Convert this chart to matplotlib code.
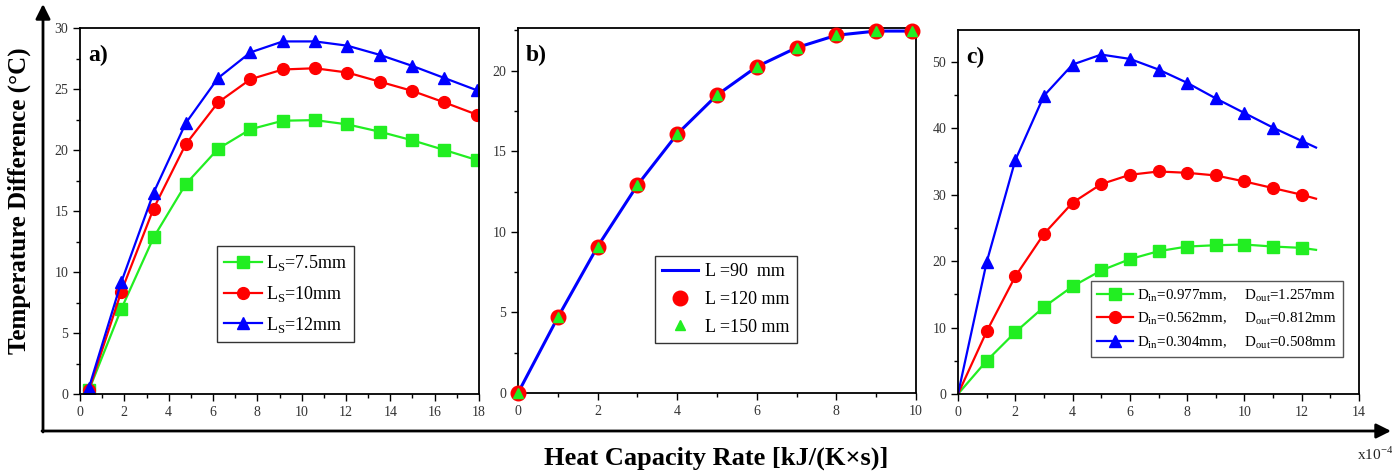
import matplotlib
matplotlib.use("Agg")
import matplotlib.pyplot as plt
from matplotlib.ticker import MultipleLocator

plt.rcParams['font.family'] = ['Liberation Serif', 'DejaVu Serif']
plt.rcParams['mathtext.fontset'] = 'custom'
plt.rcParams['mathtext.rm'] = 'Liberation Serif'

# ---------------- data ----------------
# panel a
xa = [0.4, 1.86, 3.32, 4.77, 6.23, 7.69, 9.15, 10.6, 12.06, 13.52, 14.98, 16.44, 17.9]
ya_75 = [0.3, 6.96, 12.83, 17.2, 20.1, 21.7, 22.4, 22.45, 22.1, 21.5, 20.8, 20.0, 19.18]
ya_10 = [0.3, 8.38, 15.2, 20.47, 23.9, 25.8, 26.6, 26.7, 26.35, 25.6, 24.85, 23.9, 22.9]
ya_12 = [0.5, 9.15, 16.5, 22.2, 25.9, 28.0, 28.9, 28.9, 28.55, 27.8, 26.9, 25.9, 24.9]
labels_a = ["L$_\\mathregular{S}$=7.5mm", "L$_\\mathregular{S}$=10mm", "L$_\\mathregular{S}$=12mm"]

# panel b
xb = [0, 1, 2, 3, 4, 5, 6, 7, 8, 9, 9.9]
yb_90 = [0, 4.69, 9.09, 12.9, 16.07, 18.49, 20.25, 21.43, 22.2, 22.46, 22.46]
yb_120 = [0, 4.69, 9.09, 12.9, 16.07, 18.49, 20.25, 21.43, 22.2, 22.46, 22.46]
yb_150 = [0, 4.69, 9.09, 12.9, 16.07, 18.49, 20.25, 21.43, 22.2, 22.46, 22.46]
labels_b = ["L =90  mm", "L =120 mm", "L =150 mm"]

# panel c
xc = [0, 1, 2, 3, 4, 5, 6, 7, 8, 9, 10, 11, 12, 12.5]
yc_977 = [0, 5.0, 9.3, 13.1, 16.2, 18.6, 20.3, 21.5, 22.2, 22.4, 22.5, 22.2, 22.0, 21.7]
yc_562 = [0, 9.42, 17.7, 24.1, 28.8, 31.6, 33.0, 33.5, 33.3, 32.9, 32.0, 31.0, 30.0, 29.4]
yc_304 = [0, 19.84, 35.2, 44.9, 49.6, 51.1, 50.45, 48.85, 46.85, 44.5, 42.3, 40.1, 38.1, 37.1]
labels_c = ["D$_\\mathregular{in}$=0.977mm,     D$_\\mathregular{out}$=1.257mm",
            "D$_\\mathregular{in}$=0.562mm,     D$_\\mathregular{out}$=0.812mm",
            "D$_\\mathregular{in}$=0.304mm,     D$_\\mathregular{out}$=0.508mm"]

GREEN = '#22ee22'
RED = '#ff0000'
BLUE = '#0000ff'

W, H = 1392, 474
fig = plt.figure(figsize=(W / 100, H / 100), dpi=100)


def add_ax(l, r, t, b):
    return fig.add_axes([l / W, (H - b) / H, (r - l) / W, (b - t) / H])


def style(ax, xmaj, xmin, ymaj, ymin):
    ax.xaxis.set_major_locator(MultipleLocator(xmaj))
    ax.xaxis.set_minor_locator(MultipleLocator(xmin))
    ax.yaxis.set_major_locator(MultipleLocator(ymaj))
    ax.yaxis.set_minor_locator(MultipleLocator(ymin))
    ax.tick_params(which='both', direction='out', top=False, right=False,
                   labelsize=10, labelcolor='#333333', width=1.0)
    ax.tick_params(which='major', length=5)
    ax.tick_params(which='minor', length=3)
    for s in ax.spines.values():
        s.set_linewidth(1.3)


def leg(ax, anchor, fs, hl, htp, ls, ec='#333333'):
    lg = ax.legend(loc='lower left', bbox_to_anchor=anchor, fontsize=fs, frameon=True,
                   fancybox=False, edgecolor=ec, framealpha=1, handlelength=hl,
                   handletextpad=htp, labelspacing=ls, borderpad=0.4, borderaxespad=0)
    lg.get_frame().set_linewidth(1.0)
    return lg


# ---------------- panel a ----------------
axa = add_ax(80, 479, 28, 394)
axa.plot(xa, ya_75, '-s', color=GREEN, lw=1.6, ms=8, label=labels_a[0])
axa.plot(xa, ya_10, '-o', color=RED, lw=1.6, ms=8.5, label=labels_a[1])
axa.plot(xa, ya_12, '-^', color=BLUE, lw=1.6, ms=9, label=labels_a[2])
axa.set_xlim(0, 18)
axa.set_ylim(0, 30)
style(axa, 2, 1, 5, 2.5)
axa.text(0.02, 0.955, 'a)', transform=axa.transAxes, fontsize=17, fontweight='bold', va='top')
leg(axa, (0.343, 0.142), 13, 2.1, 0.2, 0.6)

# ---------------- panel b ----------------
axb = add_ax(518, 916, 28, 393)
axb.plot(xb, yb_90, '-', color=BLUE, lw=2.2, label=labels_b[0], zorder=2)
axb.plot(xb, yb_120, 'o', color=RED, ms=10.5, label=labels_b[1], zorder=3)
axb.plot(xb, yb_150, '^', color=GREEN, ms=7, label=labels_b[2], zorder=4)
axb.set_xlim(0, 10)
axb.set_ylim(0, 22.65)
style(axb, 2, 1, 5, 2.5)
axb.text(0.02, 0.955, 'b)', transform=axb.transAxes, fontsize=17, fontweight='bold', va='top')
leg(axb, (0.344, 0.137), 13, 2.0, 0.4, 0.6)
for a in (axb.lines):
    a.set_clip_on(False)

# ---------------- panel c ----------------
axc = add_ax(958, 1359, 30, 394)
mk = list(range(1, 13))
axc.plot(xc, yc_977, '-s', color=GREEN, lw=1.6, ms=8, markevery=mk, label=labels_c[0])
axc.plot(xc, yc_562, '-o', color=RED, lw=1.6, ms=8.5, markevery=mk, label=labels_c[1])
axc.plot(xc, yc_304, '-^', color=BLUE, lw=1.6, ms=9, markevery=mk, label=labels_c[2])
axc.set_xlim(0, 14)
axc.set_ylim(0, 54.8)
style(axc, 2, 1, 10, 5)
axc.text(0.02, 0.955, 'c)', transform=axc.transAxes, fontsize=17, fontweight='bold', va='top')
leg(axc, (0.331, 0.102), 10.8, 2.4, 0.3, 0.45, ec='#555555')

# ---------------- overlay: arrows and shared labels ----------------
ov = fig.add_axes([0, 0, 1, 1], zorder=-1)
ov.set_xlim(0, W)
ov.set_ylim(H, 0)
ov.axis('off')
ov.annotate('', xy=(43, 4), xytext=(43, 432),
            arrowprops=dict(arrowstyle='-|>', lw=2, color='black', mutation_scale=22,
                            shrinkA=0, shrinkB=0))
ov.annotate('', xy=(1391, 431), xytext=(42, 431),
            arrowprops=dict(arrowstyle='-|>', lw=2, color='black', mutation_scale=22,
                            shrinkA=0, shrinkB=0))
ov.text(19, 201, 'Temperature Difference (°C)', rotation=90, ha='center', va='center',
        fontsize=18, fontweight='bold')
ov.text(716, 458, 'Heat Capacity Rate [kJ/(K×s)]', ha='center', va='center',
        fontsize=19, fontweight='bold')
ov.text(1357, 454, 'x10$^{\\mathregular{-4}}$', ha='left', va='center', fontsize=11, color='#222222')

fig.savefig('out.png', dpi=100)
